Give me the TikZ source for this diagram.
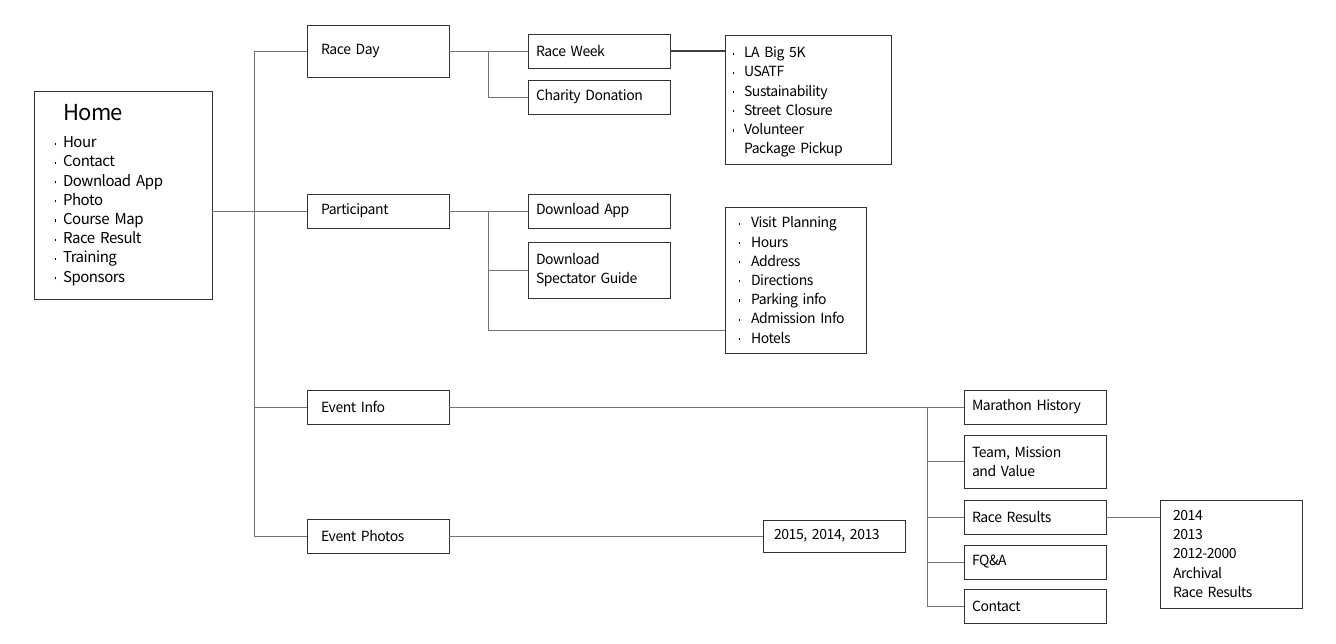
\documentclass[tikz,border=0pt]{standalone}
\usepackage{fontspec}
\setmainfont{Noto Sans CJK KR}[LetterSpace=-3]
\usetikzlibrary{positioning,calc}
\newcommand{\bul}[1]{\makebox[#1][l]{\rule[3pt]{0.8pt}{2.2pt}}}

\begin{document}
\begin{tikzpicture}[x=1pt,y=-1pt]
    \tikzstyle{box}=[rectangle,
                     draw=black!80,
                     line width=0.9pt,
                     outer sep=0pt,
                     align=left,
                     minimum height=34pt,
                     font=\fontsize{14}{19.2}\selectfont]
    \tikzset{lvl1/.style={box, text width=114pt, inner xsep=14pt},
             lvl2/.style={box, text width=126pt, inner xsep=8pt},
             conn/.style={draw=black!55, line width=0.8pt}}

    \useasboundingbox (0,0) rectangle (1336,644);

    \node[box, anchor=north west, text width=136pt, inner xsep=21pt,
          minimum height=208pt, font=\fontsize{15}{19.2}\selectfont] (home) at (34,91)
          {\hspace*{8pt}{\fontsize{22}{26}\selectfont Home}\\[8pt]
           \bul{8pt}Hour\\ \bul{8pt}Contact\\ \bul{8pt}Download App\\ \bul{8pt}Photo\\
           \bul{8pt}Course Map\\ \bul{8pt}Race Result\\ \bul{8pt}Training\\ \bul{8pt}Sponsors};

    \node[lvl1, anchor=north west, minimum height=52pt] (raceday) at (307,25) {Race Day};
    \node[lvl1, anchor=north west] (participant) at (307,194) {Participant};
    \node[lvl1, anchor=north west] (eventinfo)   at (307,390) {Event Info};
    \node[lvl1, anchor=north west] (photos)      at (307,519) {Event Photos};

    \node[lvl2] (racewk)  [right = 79pt of raceday]  {Race Week};
    \node[lvl2] (charity) [below = 12pt of racewk]   {Charity Donation};
    \node[lvl2] (dlapp)   [right = 79pt of participant] {Download App};
    \node[lvl2, minimum height=56pt] (guide) [below = 14pt of dlapp] {Download\\Spectator Guide};

    \node[box, anchor=north west, text width=150pt, inner xsep=8pt, minimum height=129pt] (labox) at (725,35)
          {\rule{0pt}{16pt}\bul{11pt}LA Big 5K\\ \bul{11pt}USATF\\ \bul{11pt}Sustainability\\
           \bul{11pt}Street Closure\\ \bul{11pt}Volunteer\\ \hspace*{11pt}Package Pickup};
    \node[box, anchor=north west, text width=113pt, inner xsep=14pt, minimum height=146pt] (visit) at (725,207)
          {\bul{12pt}Visit Planning\\ \bul{12pt}Hours\\ \bul{12pt}Address\\ \bul{12pt}Directions\\
           \bul{12pt}Parking info\\ \bul{12pt}Admission Info\\ \bul{12pt}Hotels};

    \node[lvl2] (history) [right = 515pt of eventinfo] {Marathon History};
    \node[lvl2, minimum height=53pt] (team) [below = 11pt of history] {Team, Mission\\and Value};
    \node[lvl2] (results) [below = 12pt of team]    {Race Results};
    \node[lvl2] (faq)     [below = 11pt of results] {FQ\&A};
    \node[lvl2] (contact) [below = 10pt of faq]     {Contact};

    \node[box, text width=120pt, inner xsep=11pt, minimum height=32pt] (years) [right = 314pt of photos] {2015, 2014, 2013};
    \node[box, anchor=north west, text width=116pt, inner xsep=13pt, minimum height=108pt] (archive) at (1160,500)
          {2014\\2013\\2012-2000\\Archival\\Race Results};

    % trunk from home
    \coordinate (trunk) at (254,0);
    \draw[conn] (raceday.west) -- (raceday.west -| trunk) |- (photos.west);
    \draw[conn] (participant.west) -- (participant.west -| trunk);
    \draw[conn] (eventinfo.west) -- (eventinfo.west -| trunk);
    \draw[conn] (home.east |- participant.west) -- (participant.west);

    % race day
    \draw[conn] (raceday.east) -- (racewk.west);
    \coordinate (rdsplit) at ($(raceday.east)!.5!(racewk.west)$);
    \draw[conn] (rdsplit) |- (charity.west);
    \draw[conn, draw=black!75, line width=1.4pt] (racewk.east) -- (racewk.east -| labox.west);

    % participant
    \draw[conn] (participant.east) -- (dlapp.west);
    \coordinate (ptsplit) at ($(participant.east)!.5!(dlapp.west)$);
    \draw[conn] (ptsplit) |- (guide.west);
    \draw[conn] (ptsplit) |- ($(visit.south west)+(0,-23)$);

    % event info
    \draw[conn] (eventinfo.east) -- (history.west);
    \coordinate (eisplit) at ($(history.west)+(-37,0)$);
    \draw[conn] (eisplit) |- (contact.west);
    \foreach \n in {team, results, faq}
        \draw[conn] (\n.west) -- (\n.west -| eisplit);

    \draw[conn] (photos.east) -- (years.west);
    \draw[conn] (results.east) -- (results.east -| archive.west);
\end{tikzpicture}
\end{document}
